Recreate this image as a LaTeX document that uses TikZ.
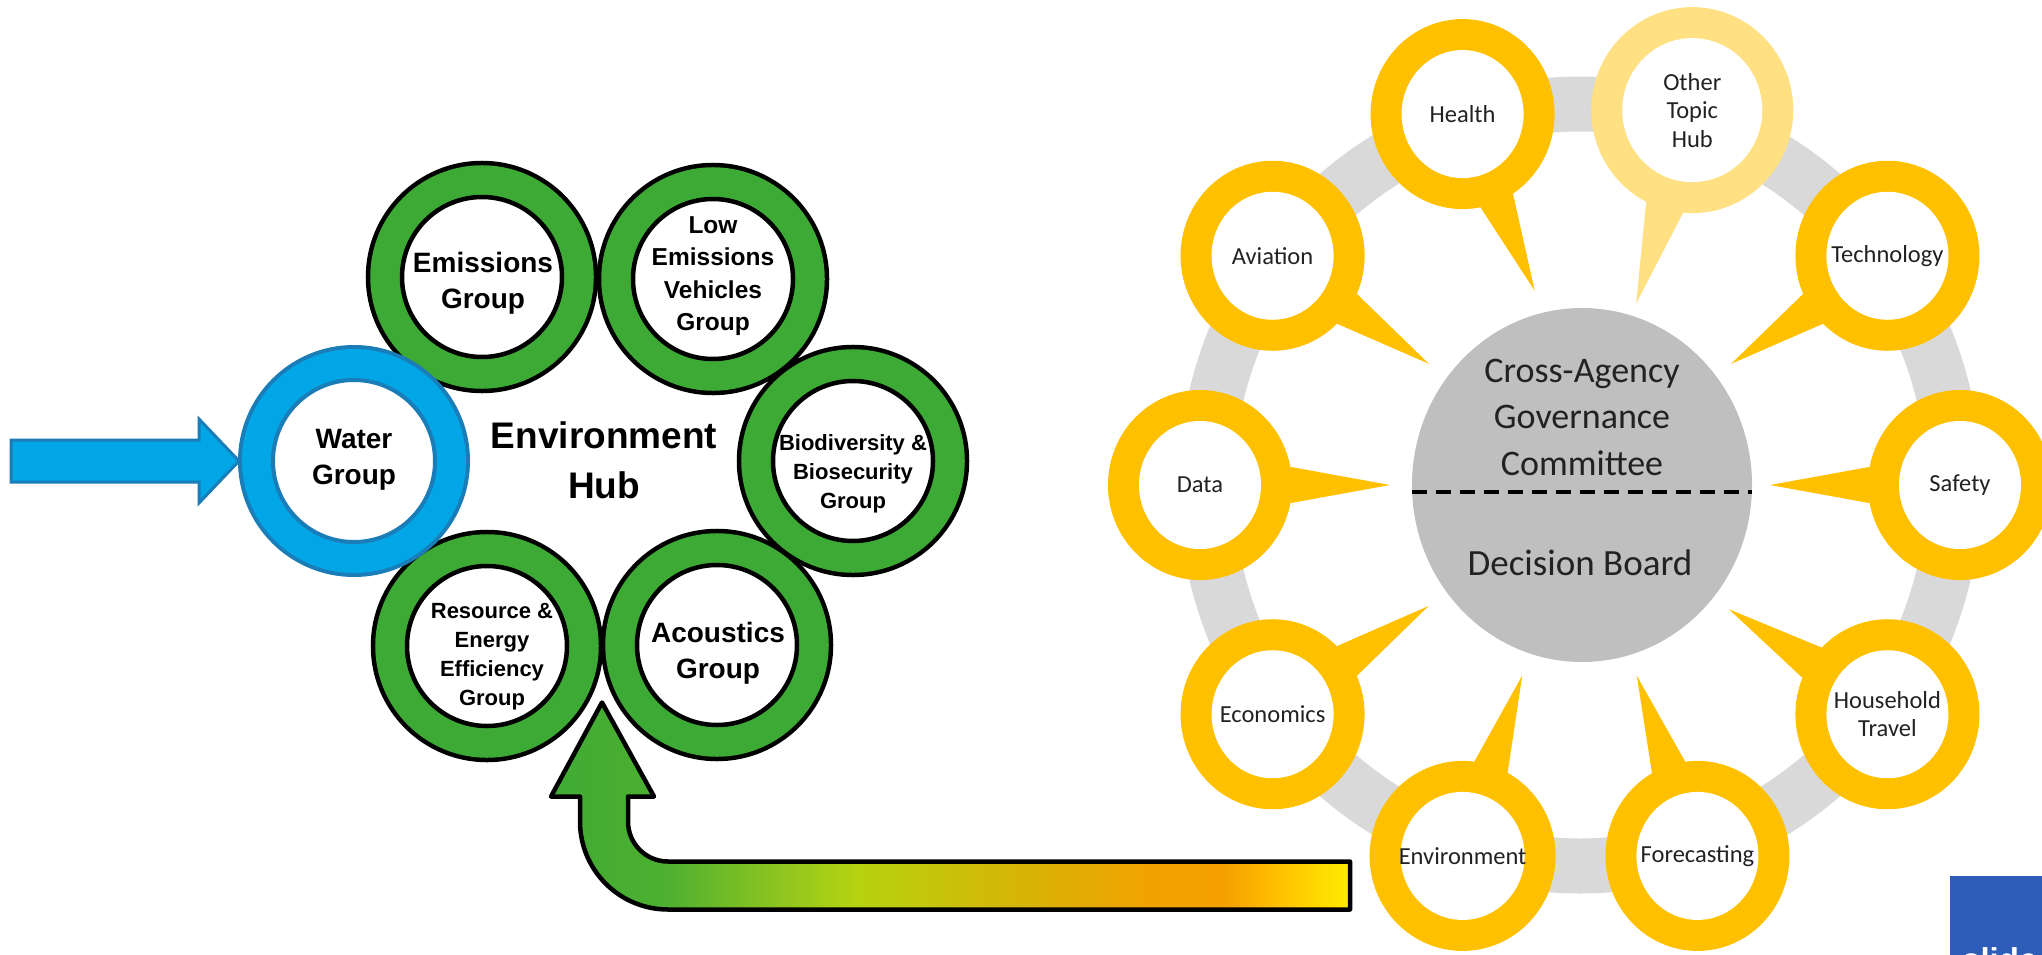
\documentclass[tikz,border=0pt]{standalone}
\usepackage{fontspec}
\setmainfont{Liberation Sans}
\newfontfamily\calfont{Carlito}
\usetikzlibrary{shapes.geometric, calc}

\definecolor{grpgreen}{HTML}{3DAA35}
\definecolor{waterblue}{HTML}{00A6E6}
\definecolor{waterrim}{HTML}{1B7DB8}
\definecolor{hubgray}{HTML}{BFBFBF}
\definecolor{trackgray}{HTML}{D9D9D9}
\definecolor{bubyellow}{HTML}{FFC000}
\definecolor{otheryellow}{HTML}{FFE083}
\definecolor{logoblue}{HTML}{2E5DB9}
\definecolor{txtgray}{HTML}{222222}
\definecolor{gradA}{HTML}{3FAA35}
\definecolor{gradB}{HTML}{4DB030}
\definecolor{gradC}{HTML}{8BC421}
\definecolor{gradD}{HTML}{B4D310}
\definecolor{gradE}{HTML}{CCBE0A}
\definecolor{gradF}{HTML}{E0AC05}
\definecolor{gradG}{HTML}{F2A200}
\definecolor{gradH}{HTML}{F5A000}
\definecolor{gradI}{HTML}{FFC000}
\definecolor{gradJ}{HTML}{FFF200}

%绿色回转箭头的轮廓, \clip 和 \draw 都要用
\newcommand{\greenarrowpath}{(greentip) -- ++(52, -94) -- ++(-26, 0) -- ++(0, -25) arc (180: 270: 40pt) -- ++(682, 0) -- ++(0, -48) -- ++(-682, 0) arc (270: 180: 88pt) -- ++(0, 25) -- ++(-29, 0) -- cycle}

\begin{document}
\begin{tikzpicture}[x=1pt, y=1pt,
    grpring/.style={circle, minimum size=160pt, inner sep=0pt, fill=white, draw=black, line width=4.5pt,
        preaction={draw=black, line width=72.5pt}, preaction={draw=grpgreen, line width=63.5pt}},
    waterring/.style={circle, minimum size=162pt, inner sep=0pt, fill=white, draw=waterrim, line width=4pt,
        preaction={draw=waterrim, line width=70pt}, preaction={draw=waterblue, line width=62pt}},
    grptxt/.style={align=center, inner sep=0pt},
    bubble/.style={ellipse, minimum width=122pt, minimum height=128pt, inner sep=-20pt, fill=white,
        preaction={draw=bubyellow, line width=62pt}, align=center, text=txtgray,
        font=\calfont\fontsize{24.5}{28.5}\selectfont},
    otherbubble/.style={ellipse, minimum width=140pt, minimum height=144pt, inner sep=-20pt, fill=white,
        preaction={draw=otheryellow, line width=62pt}, align=center, text=txtgray,
        font=\calfont\fontsize{24.5}{28.5}\selectfont}]
            \useasboundingbox (0, 0) rectangle (2042, -955);
            %左侧: 环境中心的六个小组
            \node[grpring] (emis) at (482, -277) {};
            \node[grpring] (lowemis) at (713, -279) {};
            \node[grpring] (bio) at (853, -461) {};
            \node[grpring] (acou) at (717, -645) {};
            \node[grpring] (resrc) at (487, -646) {};
            \node[waterring] (water) at (354, -461) {};
            %文字单独放, 圆不会被撑大
            \node[grptxt, font=\bfseries\fontsize{28}{36}\selectfont] (watertxt) at (354, -460) {Water\\Group};
            \node[grptxt, font=\bfseries\fontsize{28}{36}\selectfont] (emistxt) at (483, -283) {Emissions\\Group};
            \node[grptxt, font=\bfseries\fontsize{24.5}{32.5}\selectfont] (lowemistxt) at (713, -276) {Low\\Emissions\\Vehicles\\Group};
            \node[grptxt, font=\bfseries\fontsize{22}{29}\selectfont] (biotxt) at (853, -474) {Biodiversity \&\\Biosecurity\\Group};
            \node[grptxt, font=\bfseries\fontsize{28}{36}\selectfont] (acoutxt) at (718, -653) {Acoustics\\Group};
            \node[grptxt, font=\bfseries\fontsize{22}{29}\selectfont] (resrctxt) at (492, -657) {Resource \&\\Energy\\Efficiency\\Group};
            \node[grptxt, font=\bfseries\fontsize{37}{50}\selectfont] (envhub) at (604, -460) {Environment\\Hub};

            %蓝色箭头指向 Water Group
            \coordinate (bluetip) at ($(water.center)+(-115, 0)$);
            \draw[fill=waterblue, draw=waterrim, line width=3pt] (bluetip) -- ++(-40, 42) -- ++(0, -21) -- ++(-188, 0) -- ++(0, -42) -- ++(188, 0) -- ++(0, -21) -- cycle;

            %渐变箭头: 先 \clip 再分段 \shade
            \coordinate (greentip) at ($(resrc)!0.5!(acou)+(0, -57)$);
            \begin{scope}
                \clip \greenarrowpath;
                \foreach \xa/\xb/\ca/\cb in {540/665/gradA/gradB, 665/774/gradB/gradC, 774/855/gradC/gradD, 855/964/gradD/gradE, 964/1072/gradE/gradF, 1072/1153/gradF/gradG, 1153/1224/gradG/gradH, 1224/1278/gradH/gradI, 1278/1360/gradI/gradJ}
                    \shade[left color=\ca, right color=\cb] (\xa - 0.5, -690) rectangle (\xb + 0.5, -920);
            \end{scope}
            \draw[line width=4.5pt, line join=round] \greenarrowpath;

            %右侧: 灰色圆环, 中间的委员会
            \coordinate (hubc) at (1580, -485);
            \draw[trackgray, line width=55pt] (hubc) ellipse [x radius=374pt, y radius=381pt];
            \node[ellipse, fill=hubgray, minimum width=340pt, minimum height=354pt, inner sep=0pt] (board) at (1582, -485) {};
            \draw[line width=4pt, dash pattern=on 15pt off 9pt] ($(board.west)+(0, -7)$) -- ($(board.east)+(0, -7)$);
            \node[align=center, text=txtgray, font=\calfont\fontsize{36}{46.5}\selectfont] (cttee) at (1582, -417) {Cross-Agency\\Governance\\Committee};
            \node[text=txtgray, font=\calfont\fontsize{37}{44}\selectfont] (dboard) at (1580, -563) {Decision Board};

            %十个对话气泡, (角度:x半径 and y半径) 是椭圆上的极坐标
            \foreach \nm/\ang/\tip/\lbl in {data/180/180/Data, aviation/144/142.7/Aviation, health/108/103.8/Health, technology/36/37.3/Technology, safety/0/0/Safety, household/-36/-38.4/{Household\\Travel}, forecasting/-72/-72.6/Forecasting, environment/-108/-107.7/Environment, economics/-144/-142.8/Economics}{
                \node[bubble] (\nm) at ($(hubc)+(\ang:380pt and 390pt)$) {\lbl};
                \fill[bubyellow] let \p1 = ($(hubc)+(\tip:190pt and 200pt)-(\nm.center)$), \n1 = {atan2(\y1, \x1)} in
                    ($(hubc)+(\tip:190pt and 200pt)$) -- ($(\nm.center)+(\n1+11:92pt and 95pt)$) -- ($(\nm.center)+(\n1-11:92pt and 95pt)$) -- cycle;
            }
            \node[otherbubble] (other) at ($(hubc)+(73:384pt and 392pt)$) {Other\\Topic\\Hub};
            \fill[otheryellow] let \p1 = ($(hubc)+(72.8:190pt and 190pt)-(other.center)$), \n1 = {atan2(\y1, \x1)} in
                ($(hubc)+(72.8:190pt and 190pt)$) -- ($(other.center)+(\n1+11:101pt and 103pt)$) -- ($(other.center)+(\n1-11:101pt and 103pt)$) -- cycle;

            %右下角的标志, 只露出一部分
            \begin{scope}
                \clip (0, 0) rectangle (2042, -955);
                \node[fill=logoblue, anchor=north west, minimum width=100pt, minimum height=90pt, inner sep=0pt] (logo) at (1950, -876) {};
                \node[anchor=base west, text=white, inner sep=0pt, font=\bfseries\fontsize{33}{33}\selectfont] (logotxt) at (1962, -971) {slide};
            \end{scope}
\end{tikzpicture}
\end{document}
